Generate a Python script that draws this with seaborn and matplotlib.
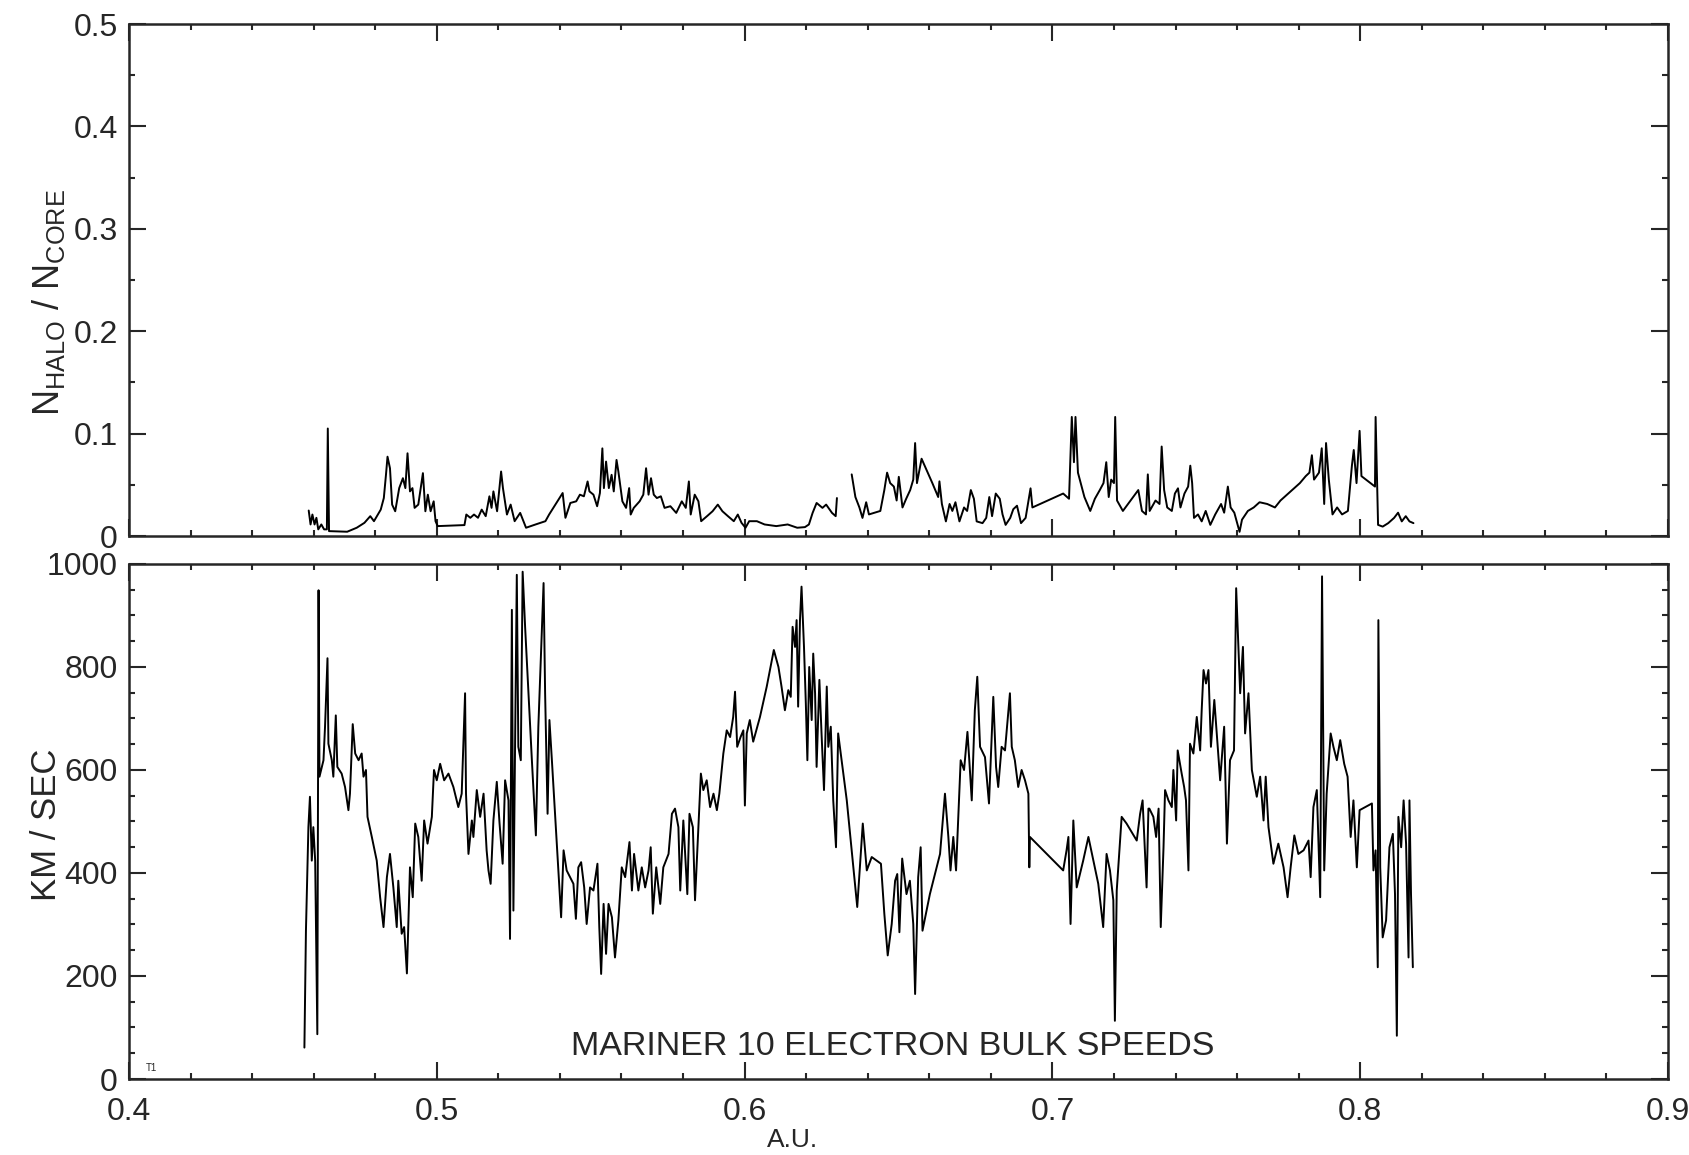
import numpy as np
import pandas as pd
import matplotlib
matplotlib.use('Agg')
import matplotlib.pyplot as plt
from matplotlib.ticker import MultipleLocator, FuncFormatter
import seaborn as sns

sns.set_style('ticks')
plt.rcParams['font.family'] = ['Liberation Sans', 'DejaVu Sans']

# halo/core density ratio, first stretch
au_ratio_a = [0.4584, 0.4590, 0.4596, 0.4603, 0.4609, 0.4615, 0.4625, 0.4634, 0.4643, 0.4646,
              0.4650, 0.4709, 0.4740, 0.4765, 0.4784, 0.4796, 0.4818, 0.4828, 0.4835, 0.4840,
              0.4848, 0.4855, 0.4865, 0.4878, 0.4890, 0.4898, 0.4905, 0.4913, 0.4921, 0.4928,
              0.4940, 0.4955, 0.4963, 0.4971, 0.4980, 0.4990, 0.4996, 0.5003, 0.5090, 0.5096,
              0.5109, 0.5121, 0.5134, 0.5146, 0.5159, 0.5171, 0.5178, 0.5184, 0.5196, 0.5209,
              0.5215, 0.5228, 0.5240, 0.5253, 0.5271, 0.5290, 0.5321, 0.5353, 0.5365, 0.5409,
              0.5418, 0.5434, 0.5453, 0.5465, 0.5478, 0.5490, 0.5496, 0.5509, 0.5521, 0.5530,
              0.5538, 0.5543, 0.5550, 0.5559, 0.5568, 0.5575, 0.5584, 0.5590, 0.5603, 0.5615,
              0.5625, 0.5630, 0.5640, 0.5659, 0.5671, 0.5680, 0.5688, 0.5696, 0.5705, 0.5715,
              0.5728, 0.5740, 0.5759, 0.5778, 0.5796, 0.5809, 0.5819, 0.5825, 0.5838, 0.5850,
              0.5859, 0.5878, 0.5896, 0.5913, 0.5928, 0.5946, 0.5965, 0.5978, 0.5990, 0.6003,
              0.6015, 0.6040, 0.6065, 0.6103, 0.6140, 0.6171, 0.6196, 0.6209, 0.6221, 0.6234,
              0.6253, 0.6265, 0.6284, 0.6296, 0.6300]
ratio_a = [0.0249, 0.0113, 0.0210, 0.0113, 0.0178, 0.0065, 0.0113, 0.0065, 0.0065, 0.1050,
           0.0048, 0.0042, 0.0081, 0.0129, 0.0194, 0.0145, 0.0258, 0.0371, 0.0598, 0.0775,
           0.0662, 0.0307, 0.0242, 0.0468, 0.0565, 0.0468, 0.0808, 0.0436, 0.0468, 0.0275,
           0.0307, 0.0614, 0.0242, 0.0404, 0.0242, 0.0339, 0.0145, 0.0097, 0.0107, 0.0210,
           0.0178, 0.0210, 0.0178, 0.0258, 0.0194, 0.0388, 0.0275, 0.0436, 0.0242, 0.0630,
           0.0468, 0.0210, 0.0307, 0.0145, 0.0226, 0.0081, 0.0113, 0.0145, 0.0210, 0.0420,
           0.0178, 0.0323, 0.0339, 0.0404, 0.0388, 0.0533, 0.0436, 0.0404, 0.0291, 0.0420,
           0.0856, 0.0468, 0.0727, 0.0468, 0.0598, 0.0436, 0.0743, 0.0630, 0.0339, 0.0275,
           0.0468, 0.0210, 0.0275, 0.0339, 0.0404, 0.0662, 0.0404, 0.0565, 0.0404, 0.0371,
           0.0388, 0.0275, 0.0291, 0.0226, 0.0339, 0.0275, 0.0533, 0.0210, 0.0404, 0.0339,
           0.0145, 0.0194, 0.0242, 0.0307, 0.0242, 0.0194, 0.0145, 0.0210, 0.0129, 0.0081,
           0.0145, 0.0145, 0.0113, 0.0097, 0.0113, 0.0081, 0.0087, 0.0113, 0.0226, 0.0323,
           0.0275, 0.0307, 0.0226, 0.0194, 0.0371]

# second stretch after the data gap
au_ratio_b = [0.6348, 0.6360, 0.6373, 0.6383, 0.6395, 0.6404, 0.6423, 0.6441, 0.6454, 0.6463,
              0.6473, 0.6485, 0.6494, 0.6501, 0.6513, 0.6525, 0.6538, 0.6548, 0.6554, 0.6560,
              0.6575, 0.6610, 0.6629, 0.6633, 0.6641, 0.6654, 0.6666, 0.6675, 0.6685, 0.6698,
              0.6713, 0.6723, 0.6735, 0.6745, 0.6754, 0.6773, 0.6785, 0.6795, 0.6804, 0.6816,
              0.6829, 0.6838, 0.6848, 0.6863, 0.6873, 0.6885, 0.6898, 0.6913, 0.6929, 0.6935,
              0.7035, 0.7054, 0.7063, 0.7070, 0.7075, 0.7083, 0.7104, 0.7123, 0.7138, 0.7154,
              0.7166, 0.7175, 0.7183, 0.7191, 0.7200, 0.7204, 0.7210, 0.7229, 0.7279, 0.7291,
              0.7304, 0.7310, 0.7316, 0.7335, 0.7348, 0.7355, 0.7363, 0.7373, 0.7388, 0.7398,
              0.7408, 0.7416, 0.7429, 0.7441, 0.7448, 0.7454, 0.7460, 0.7473, 0.7485, 0.7498,
              0.7513, 0.7529, 0.7548, 0.7558, 0.7570, 0.7579, 0.7591, 0.7608, 0.7616, 0.7635,
              0.7654, 0.7673, 0.7698, 0.7723, 0.7741, 0.7766, 0.7785, 0.7804, 0.7823, 0.7835,
              0.7843, 0.7850, 0.7866, 0.7875, 0.7883, 0.7889, 0.7898, 0.7910, 0.7925, 0.7941,
              0.7960, 0.7973, 0.7979, 0.7988, 0.7998, 0.8004, 0.8048, 0.8050, 0.8058, 0.8073,
              0.8091, 0.8110, 0.8123, 0.8135, 0.8148, 0.8160, 0.8173]
ratio_b = [0.0602, 0.0381, 0.0279, 0.0177, 0.0330, 0.0211, 0.0228, 0.0245, 0.0449, 0.0619,
           0.0517, 0.0483, 0.0347, 0.0578, 0.0279, 0.0364, 0.0449, 0.0551, 0.0908, 0.0517,
           0.0755, 0.0517, 0.0381, 0.0534, 0.0313, 0.0143, 0.0313, 0.0245, 0.0330, 0.0143,
           0.0279, 0.0245, 0.0449, 0.0364, 0.0143, 0.0126, 0.0177, 0.0381, 0.0194, 0.0415,
           0.0364, 0.0211, 0.0109, 0.0177, 0.0262, 0.0296, 0.0126, 0.0177, 0.0466, 0.0279,
           0.0415, 0.0364, 0.1163, 0.0721, 0.1163, 0.0619, 0.0381, 0.0245, 0.0364, 0.0449,
           0.0517, 0.0721, 0.0381, 0.0551, 0.0517, 0.1163, 0.0347, 0.0245, 0.0449, 0.0245,
           0.0211, 0.0602, 0.0245, 0.0347, 0.0313, 0.0874, 0.0449, 0.0279, 0.0245, 0.0415,
           0.0466, 0.0279, 0.0415, 0.0483, 0.0687, 0.0517, 0.0177, 0.0211, 0.0143, 0.0245,
           0.0109, 0.0211, 0.0313, 0.0228, 0.0483, 0.0279, 0.0228, 0.0041, 0.0160, 0.0245,
           0.0279, 0.0330, 0.0313, 0.0279, 0.0347, 0.0415, 0.0466, 0.0517, 0.0585, 0.0619,
           0.0789, 0.0551, 0.0619, 0.0857, 0.0313, 0.0908, 0.0551, 0.0211, 0.0279, 0.0211,
           0.0245, 0.0687, 0.0840, 0.0517, 0.1027, 0.0585, 0.0483, 0.1163, 0.0109, 0.0092,
           0.0126, 0.0177, 0.0228, 0.0143, 0.0194, 0.0143, 0.0126]

# electron bulk speed, km/s (lower panel)
au_speed = [0.4570, 0.4575, 0.4583, 0.4588, 0.4594, 0.4599, 0.4605, 0.4612, 0.4616, 0.4619,
            0.4632, 0.4637, 0.4645, 0.4648, 0.4659, 0.4664, 0.4672, 0.4677, 0.4691, 0.4702,
            0.4713, 0.4718, 0.4727, 0.4735, 0.4746, 0.4756, 0.4762, 0.4770, 0.4775, 0.4789,
            0.4805, 0.4816, 0.4827, 0.4838, 0.4848, 0.4859, 0.4870, 0.4875, 0.4886, 0.4894,
            0.4903, 0.4913, 0.4922, 0.4930, 0.4940, 0.4951, 0.4959, 0.4970, 0.4984, 0.4991,
            0.5000, 0.5011, 0.5024, 0.5038, 0.5054, 0.5070, 0.5081, 0.5092, 0.5095, 0.5103,
            0.5114, 0.5119, 0.5130, 0.5141, 0.5152, 0.5162, 0.5168, 0.5175, 0.5184, 0.5195,
            0.5204, 0.5214, 0.5222, 0.5233, 0.5238, 0.5244, 0.5249, 0.5255, 0.5260, 0.5265,
            0.5273, 0.5279, 0.5287, 0.5298, 0.5309, 0.5322, 0.5330, 0.5347, 0.5352, 0.5360,
            0.5366, 0.5374, 0.5390, 0.5404, 0.5412, 0.5422, 0.5433, 0.5444, 0.5452, 0.5460,
            0.5469, 0.5479, 0.5487, 0.5498, 0.5509, 0.5522, 0.5528, 0.5534, 0.5542, 0.5550,
            0.5558, 0.5569, 0.5579, 0.5590, 0.5601, 0.5612, 0.5626, 0.5634, 0.5641, 0.5655,
            0.5666, 0.5677, 0.5688, 0.5695, 0.5702, 0.5713, 0.5726, 0.5736, 0.5753, 0.5764,
            0.5774, 0.5785, 0.5791, 0.5801, 0.5814, 0.5821, 0.5832, 0.5839, 0.5847, 0.5858,
            0.5866, 0.5877, 0.5888, 0.5899, 0.5910, 0.5918, 0.5931, 0.5942, 0.5953, 0.5963,
            0.5969, 0.5976, 0.5987, 0.5996, 0.6001, 0.6007, 0.6017, 0.6028, 0.6050, 0.6072,
            0.6095, 0.6110, 0.6120, 0.6131, 0.6142, 0.6150, 0.6156, 0.6164, 0.6169, 0.6174,
            0.6180, 0.6185, 0.6193, 0.6199, 0.6204, 0.6210, 0.6218, 0.6223, 0.6229, 0.6234,
            0.6243, 0.6250, 0.6258, 0.6267, 0.6272, 0.6280, 0.6288, 0.6297, 0.6304, 0.6332,
            0.6366, 0.6384, 0.6397, 0.6413, 0.6429, 0.6443, 0.6454, 0.6465, 0.6478, 0.6489,
            0.6496, 0.6503, 0.6512, 0.6526, 0.6537, 0.6548, 0.6554, 0.6564, 0.6572, 0.6578,
            0.6602, 0.6635, 0.6651, 0.6662, 0.6669, 0.6678, 0.6687, 0.6702, 0.6713, 0.6724,
            0.6730, 0.6738, 0.6748, 0.6756, 0.6765, 0.6781, 0.6794, 0.6808, 0.6817, 0.6824,
            0.6835, 0.6846, 0.6862, 0.6868, 0.6878, 0.6889, 0.6900, 0.6911, 0.6922, 0.6925,
            0.6927, 0.7035, 0.7046, 0.7052, 0.7059, 0.7068, 0.7079, 0.7100, 0.7117, 0.7133,
            0.7149, 0.7165, 0.7176, 0.7187, 0.7198, 0.7203, 0.7209, 0.7225, 0.7241, 0.7274,
            0.7285, 0.7293, 0.7306, 0.7312, 0.7315, 0.7328, 0.7337, 0.7345, 0.7352, 0.7361,
            0.7366, 0.7377, 0.7388, 0.7393, 0.7402, 0.7407, 0.7420, 0.7428, 0.7434, 0.7442,
            0.7447, 0.7458, 0.7469, 0.7480, 0.7485, 0.7491, 0.7499, 0.7507, 0.7515, 0.7526,
            0.7545, 0.7558, 0.7567, 0.7577, 0.7590, 0.7597, 0.7604, 0.7610, 0.7619, 0.7626,
            0.7637, 0.7648, 0.7664, 0.7675, 0.7686, 0.7693, 0.7702, 0.7718, 0.7734, 0.7751,
            0.7764, 0.7774, 0.7786, 0.7799, 0.7816, 0.7832, 0.7839, 0.7848, 0.7859, 0.7870,
            0.7876, 0.7883, 0.7891, 0.7904, 0.7913, 0.7924, 0.7935, 0.7948, 0.7959, 0.7969,
            0.7978, 0.7989, 0.7998, 0.8038, 0.8043, 0.8050, 0.8057, 0.8059, 0.8065, 0.8073,
            0.8084, 0.8095, 0.8106, 0.8113, 0.8119, 0.8124, 0.8133, 0.8141, 0.8149, 0.8157,
            0.8160, 0.8165, 0.8171]
speed = [61, 288, 489, 548, 424, 489, 424, 87, 949, 587,
         619, 684, 817, 651, 619, 587, 706, 606, 593, 567,
         522, 554, 689, 632, 619, 632, 587, 600, 509, 470,
         424, 353, 295, 392, 437, 372, 295, 385, 282, 295,
         205, 411, 353, 496, 470, 385, 502, 457, 509, 600,
         580, 612, 580, 593, 567, 528, 554, 749, 554, 437,
         502, 470, 561, 509, 554, 444, 405, 379, 502, 577,
         496, 418, 580, 541, 272, 911, 327, 684, 979, 645,
         619, 985, 878, 749, 619, 473, 684, 963, 749, 515,
         697, 619, 457, 314, 444, 405, 392, 379, 311, 411,
         421, 372, 301, 372, 366, 418, 295, 204, 340, 243,
         340, 314, 236, 308, 411, 392, 460, 366, 437, 366,
         411, 372, 405, 450, 321, 411, 340, 411, 437, 515,
         525, 489, 366, 502, 359, 515, 489, 347, 450, 593,
         561, 580, 528, 554, 522, 554, 632, 677, 664, 703,
         752, 645, 664, 677, 531, 671, 697, 655, 703, 762,
         833, 800, 762, 716, 755, 742, 878, 839, 891, 723,
         891, 956, 839, 729, 619, 800, 697, 826, 749, 606,
         775, 671, 561, 762, 645, 684, 541, 450, 671, 541,
         334, 496, 405, 431, 424, 418, 321, 240, 301, 385,
         398, 285, 428, 359, 385, 301, 165, 392, 450, 288,
         359, 437, 554, 470, 405, 470, 405, 619, 600, 674,
         619, 541, 716, 781, 645, 625, 535, 742, 606, 567,
         645, 638, 749, 645, 619, 567, 600, 580, 554, 411,
         470, 405, 444, 470, 301, 502, 372, 424, 470, 424,
         379, 295, 437, 405, 347, 113, 366, 509, 496, 463,
         515, 541, 372, 525, 525, 509, 470, 525, 295, 450,
         561, 541, 528, 600, 502, 638, 593, 567, 541, 405,
         651, 632, 703, 638, 716, 794, 768, 794, 645, 736,
         580, 684, 457, 619, 638, 953, 846, 749, 839, 671,
         749, 600, 548, 587, 502, 587, 489, 418, 457, 411,
         353, 411, 473, 437, 444, 463, 392, 528, 561, 353,
         976, 405, 554, 671, 645, 619, 658, 612, 587, 470,
         541, 411, 522, 535, 405, 444, 217, 891, 411, 275,
         308, 450, 476, 359, 84, 509, 450, 541, 457, 236,
         541, 359, 217]

x_ticks = [0.4, 0.5, 0.6, 0.7, 0.8, 0.9]
ratio_ticks = [0, 0.1, 0.2, 0.3, 0.4, 0.5]
speed_ticks = [0, 200, 400, 600, 800, 1000]

halo = pd.concat([
    pd.DataFrame({'au': au_ratio_a, 'ratio': ratio_a, 'seg': 0}),
    pd.DataFrame({'au': au_ratio_b, 'ratio': ratio_b, 'seg': 1}),
], ignore_index=True)
bulk = pd.DataFrame({'au': au_speed, 'speed': speed})

fig = plt.figure(figsize=(16.9, 11.55), dpi=100)
ax1 = fig.add_axes([0.0763, 0.5359, 0.9107, 0.4433])
ax2 = fig.add_axes([0.0763, 0.0658, 0.9107, 0.4459])

sns.lineplot(data=halo, x='au', y='ratio', units='seg', estimator=None, sort=False,
             color='black', lw=1.4, ax=ax1, legend=False)
sns.lineplot(data=bulk, x='au', y='speed', estimator=None, sort=False,
             color='black', lw=1.4, ax=ax2, legend=False)

for ax in (ax1, ax2):
    ax.set_xlim(0.4, 0.9)
    ax.set_xticks(x_ticks)
    ax.xaxis.set_minor_locator(MultipleLocator(0.02))
    ax.tick_params(which='both', direction='in', top=True, right=True, width=1.5,
                   labelsize=23)
    ax.tick_params(axis='y', pad=8)
    ax.tick_params(axis='x', pad=13)
    ax.tick_params(which='major', length=12)
    ax.tick_params(which='minor', length=4)
    for s in ax.spines.values():
        s.set_linewidth(1.8)

ax1.set_ylim(0, 0.5)
ax1.set_yticks(ratio_ticks)
ax1.yaxis.set_minor_locator(MultipleLocator(0.05))
ax1.yaxis.set_major_formatter(FuncFormatter(lambda v, p: '0' if v == 0 else f'{v:.1f}'))
ax1.set_xticklabels([])
ax1.set_xlabel('')
ax1.set_ylabel(r'$\mathregular{N_{HALO}}$ / $\mathregular{N_{CORE}}$', fontsize=26)
ax1.yaxis.set_label_coords(-0.04, 0.455)

ax2.set_ylim(0, 1000)
ax2.set_yticks(speed_ticks)
ax2.yaxis.set_minor_locator(MultipleLocator(50))
ax2.set_xticklabels([f'{v:.1f}' for v in x_ticks])
ax2.set_ylabel('KM / SEC', fontsize=25)
ax2.yaxis.set_label_coords(-0.043, 0.494)
ax2.set_xlabel('A.U.', fontsize=19, va='center')
ax2.xaxis.set_label_coords(0.431, -0.1184)

ax2.text(0.4964, 0.063, 'MARINER 10 ELECTRON BULK SPEEDS', transform=ax2.transAxes,
         ha='center', va='center', fontsize=24.5)
ax2.text(0.011, 0.022, 'T1', transform=ax2.transAxes, ha='left', va='center', fontsize=7)

fig.savefig('out.png', dpi=100)
